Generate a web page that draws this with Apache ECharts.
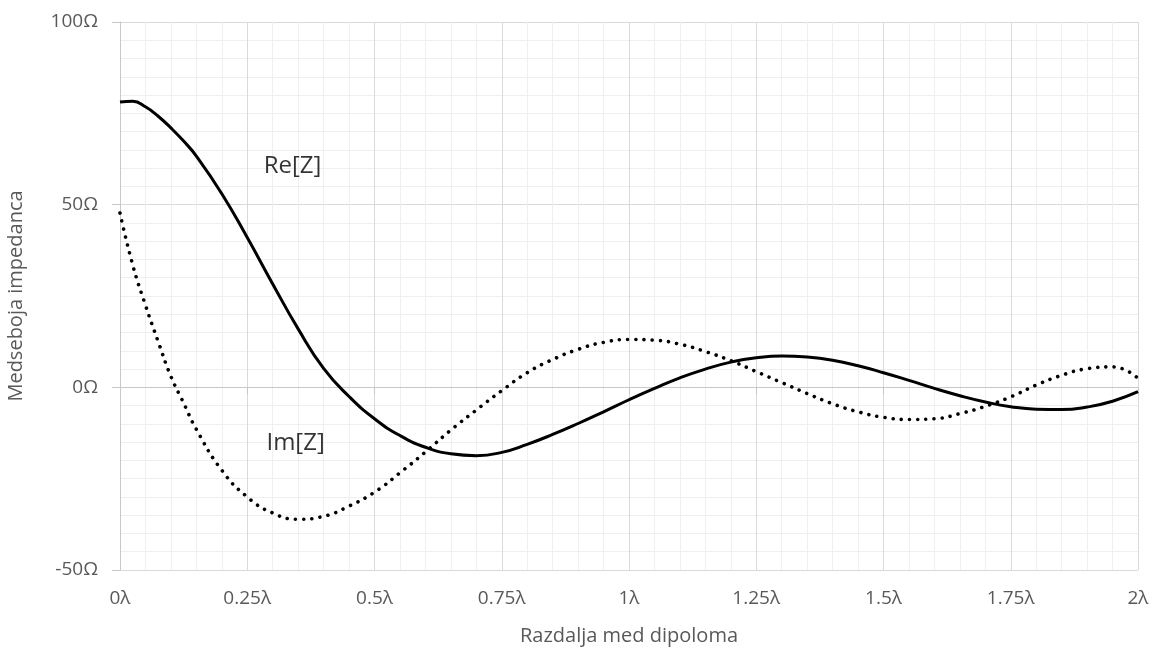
<!DOCTYPE html>
<html>
<head>
<meta charset="utf-8">
<script src="https://cdn.jsdelivr.net/npm/echarts@6/dist/echarts.min.js"></script>
<style>
  html, body { margin: 0; padding: 0; background: #fff; }
  #chart { width: 1153px; height: 652px; }
</style>
</head>
<body>
<div id="chart"></div>
<script>
// razdalja v valovnih dolžinah
const reDist = [0, 0.025, 0.05, 0.075, 0.1, 0.125, 0.15, 0.2, 0.25, 0.3, 0.35, 0.4, 0.45, 0.5, 0.55, 0.6, 0.65, 0.7,
  0.75, 0.8, 0.85, 0.9, 0.95, 1.0, 1.05, 1.1, 1.15, 1.2, 1.25, 1.3, 1.35, 1.4, 1.45, 1.5, 1.55, 1.6,
  1.65, 1.7, 1.75, 1.8, 1.85, 1.9, 1.95, 2.0]
const reZ = [78.1, 78.3, 76.8, 74.2, 71.0, 67.4, 63.3, 53.0, 41.0, 28.3, 16.0, 5.2, -2.5, -8.6, -13.2, -16.4, -18.2, -18.7,
  -17.8, -15.6, -12.9, -9.9, -6.7, -3.4, -0.3, 2.6, 5.0, 6.9, 8.1, 8.6, 8.3, 7.4, 5.9, 4.0, 1.9, -0.3,
  -2.3, -4.0, -5.3, -6.0, -6.1, -5.4, -3.8, -1.2]

const imDist = [0, 0.025, 0.05, 0.075, 0.1, 0.125, 0.15, 0.2, 0.25, 0.3, 0.35, 0.4, 0.45, 0.5, 0.55, 0.6,
  0.65, 0.7, 0.75, 0.8, 0.85, 0.9, 0.95, 1.0, 1.05, 1.1, 1.15, 1.2, 1.25, 1.3, 1.35, 1.4, 1.45, 1.5,
  1.55, 1.6, 1.65, 1.7, 1.75, 1.8, 1.85, 1.9, 1.95, 2.0]
const imZ = [47.7, 33.5, 22.5, 12.5, 3.0, -4.3, -11.5, -22.7, -30.0, -34.4, -36.1, -35.3, -32.5, -28.7, -23.4, -17.7,
  -11.7, -6.2, -0.9, 4.0, 7.6, 10.4, 12.3, 13.1, 12.9, 11.8, 9.8, 7.3, 4.3, 1.3, -1.7, -4.5, -6.7, -8.2,
  -8.8, -8.6, -7.2, -5.2, -2.6, 0.6, 3.3, 5.1, 5.6, 2.5]

const curveLabels = ['Re[Z]', 'Im[Z]']
const labelPos = [[0.339, 60.5], [0.345, -15.3]]

const xTicks = { 0: '0λ', 0.25: '0.25λ', 0.5: '0.5λ', 0.75: '0.75λ', 1: '1λ', 1.25: '1.25λ', 1.5: '1.5λ', 1.75: '1.75λ', 2: '2λ' }

const FONT = '"Open Sans", "Noto Sans", sans-serif'
const GREY = '#595959'

const chart = echarts.init(document.getElementById('chart'))

const xBase = {
  type: 'value',
  min: 0,
  max: 2,
  interval: 0.25,
  position: 'bottom'
}

const option = {
  animation: false,
  grid: { left: 120, right: 15, top: 22, bottom: 82, outerBoundsMode: 'none', containLabel: false },
  xAxis: [
    {
      ...xBase,
      axisLine: { onZero: false, show: false },
      axisTick: { show: false },
      axisLabel: {
        color: GREY,
        fontFamily: FONT,
        fontSize: 19,
        margin: 19,
        formatter: (v) => xTicks[v] || ''
      },
      name: 'Razdalja med dipoloma',
      nameLocation: 'middle',
      nameGap: 56,
      nameTextStyle: { color: GREY, fontFamily: FONT, fontSize: 20 },
      splitLine: { show: true, lineStyle: { color: '#d9d9d9', width: 1 } },
      minorTick: { show: false, splitNumber: 5 },
      minorSplitLine: { show: true, lineStyle: { color: '#efefef', width: 1 } }
    },
    {
      ...xBase,
      axisLine: { onZero: true, show: true, lineStyle: { color: '#c8c8c8', width: 1 } },
      axisTick: { show: true, length: 7, lineStyle: { color: '#c8c8c8' } },
      axisLabel: { show: false },
      splitLine: { show: false }
    }
  ],
  yAxis: {
    type: 'value',
    min: -50,
    max: 100,
    interval: 50,
    axisLine: { show: true, lineStyle: { color: '#c8c8c8' } },
    axisTick: { show: true, length: 8, lineStyle: { color: '#c8c8c8' } },
    axisLabel: {
      color: GREY,
      fontFamily: FONT,
      fontSize: 19,
      margin: 22,
      formatter: (v) => v + 'Ω'
    },
    name: 'Medseboja impedanca',
    nameLocation: 'middle',
    nameGap: 94,
    nameTextStyle: { color: GREY, fontFamily: FONT, fontSize: 20 },
    splitLine: { show: true, lineStyle: { color: '#d9d9d9', width: 1 } },
    minorTick: { show: false, splitNumber: 10 },
    minorSplitLine: { show: true, lineStyle: { color: '#efefef', width: 1 } }
  },
  series: [
    {
      name: 'Re[Z]',
      type: 'line',
      xAxisIndex: 0,
      smooth: 0.5,
      symbol: 'none',
      lineStyle: { color: '#000', width: 3 },
      data: reDist.map((d, i) => [d, reZ[i]])
    },
    {
      name: 'Im[Z]',
      type: 'line',
      xAxisIndex: 0,
      smooth: 0.5,
      symbol: 'none',
      lineStyle: { color: '#000', width: 3.6, type: [0.01, 8.2], cap: 'round' },
      data: imDist.map((d, i) => [d, imZ[i]])
    },
    {
      type: 'scatter',
      xAxisIndex: 0,
      symbolSize: 0,
      silent: true,
      label: {
        show: true,
        position: 'inside',
        color: '#000',
        fontFamily: FONT,
        fontSize: 24,
        formatter: (p) => curveLabels[p.dataIndex]
      },
      data: labelPos
    }
  ]
}

chart.setOption(option)
</script>
</body>
</html>
